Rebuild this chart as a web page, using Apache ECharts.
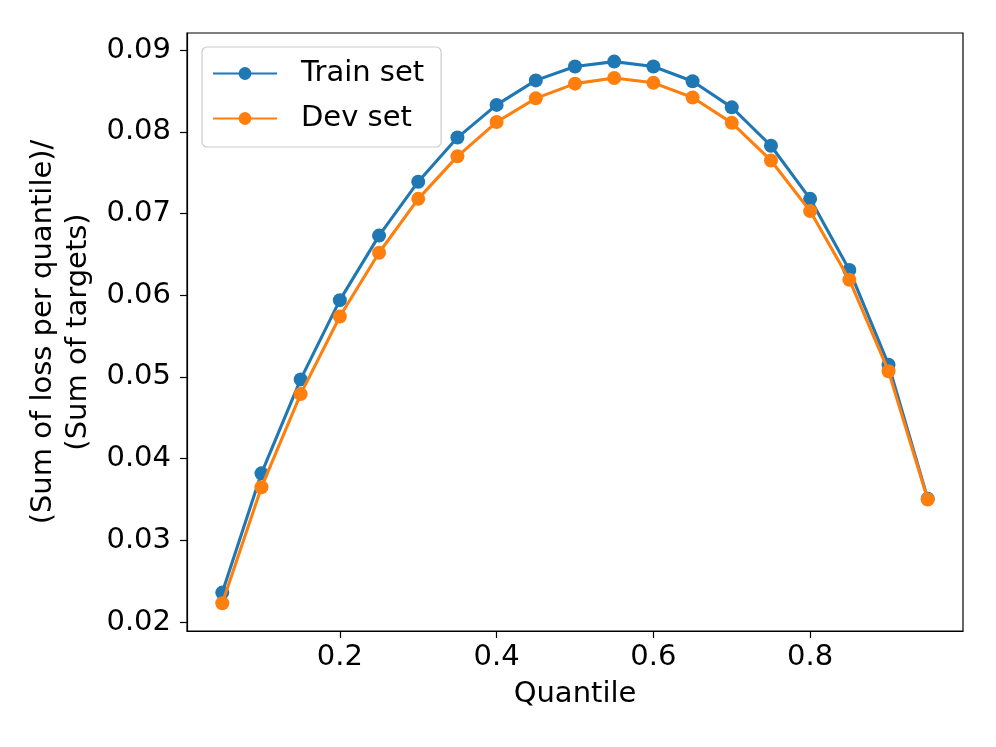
<!DOCTYPE html>
<html>
<head>
<meta charset="utf-8">
<script src="https://cdn.jsdelivr.net/npm/echarts@6/dist/echarts.min.js"></script>
<style>
html,body{margin:0;padding:0;background:#fff;}
#chart{width:996px;height:747px;}
</style>
</head>
<body>
<div id="chart"></div>
<script>
const quantiles = [0.05,0.10,0.15,0.20,0.25,0.30,0.35,0.40,0.45,0.50,0.55,0.60,0.65,0.70,0.75,0.80,0.85,0.90,0.95];
const trainSet = [0.0236,0.0382,0.0497,0.0594,0.0673,0.0739,0.0793,0.0833,0.0863,0.0880,0.0886,0.0880,0.0862,0.0830,0.0783,0.0718,0.0631,0.0515,0.0351];
const devSet   = [0.0223,0.0365,0.0479,0.0574,0.0652,0.0718,0.0770,0.0812,0.0841,0.0859,0.0866,0.0860,0.0842,0.0811,0.0765,0.0703,0.0619,0.0507,0.0350];
const xTicks = [0.2,0.4,0.6,0.8];
const yTicks = [0.02,0.03,0.04,0.05,0.06,0.07,0.08,0.09];
const seriesNames = ['Train set','Dev set'];
const colors = ['#1f77b4','#ff7f0e'];
const xTitle = 'Quantile';
const yTitle = '(Sum of loss per quantile)/\n(Sum of targets)';

const font = 'DejaVu Sans';
const fs = 29;
const chart = echarts.init(document.getElementById('chart'), null, {renderer:'canvas'});
function pairs(xs, ys){ return xs.map((x,i)=>[x, ys[i]]); }

chart.setOption({
  animation:false,
  backgroundColor:'#fff',
  textStyle:{fontFamily:font},
  grid:{left:187,right:33,top:33,bottom:116,show:true,borderColor:'#000',borderWidth:1.2,backgroundColor:'transparent'},
  legend:{
    left:202, top:47, orient:'vertical',
    data:seriesNames,
    itemWidth:64, itemHeight:16, itemGap:16,
    padding:[12,17,14,10],
    borderColor:'#cccccc', borderWidth:1.2, borderRadius:5,
    backgroundColor:'rgba(255,255,255,0.8)',
    textStyle:{fontFamily:font,fontSize:fs,color:'#000',padding:[0,0,0,19]}
  },
  xAxis:{
    type:'value', min:0.005, max:0.995,
    name:xTitle, nameLocation:'middle', nameGap:49,
    nameTextStyle:{fontFamily:font,fontSize:fs,color:'#000'},
    axisLine:{show:true,lineStyle:{color:'#000',width:1.2}},
    axisTick:{show:true,inside:false,length:7,lineStyle:{color:'#000',width:1.2},customValues:xTicks},
    axisLabel:{show:true,margin:12,fontFamily:font,fontSize:fs,color:'#000',customValues:xTicks,formatter:v=>v.toFixed(1)},
    splitLine:{show:false}
  },
  yAxis:{
    type:'value', min:0.0189, max:0.0921,
    name:yTitle, nameLocation:'middle', nameGap:86, nameRotate:90,
    nameTextStyle:{fontFamily:font,fontSize:fs,color:'#000',lineHeight:35,align:'center'},
    axisLine:{show:true,lineStyle:{color:'#000',width:1.2}},
    axisTick:{show:true,inside:false,length:7,lineStyle:{color:'#000',width:1.2},customValues:yTicks},
    axisLabel:{show:true,margin:16,fontFamily:font,fontSize:fs,color:'#000',customValues:yTicks,formatter:v=>v.toFixed(2)},
    splitLine:{show:false}
  },
  series:[
    {name:seriesNames[0],type:'line',data:pairs(quantiles,trainSet),symbol:'circle',symbolSize:14,
     itemStyle:{color:colors[0]},lineStyle:{color:colors[0],width:3.1},z:2},
    {name:seriesNames[1],type:'line',data:pairs(quantiles,devSet),symbol:'circle',symbolSize:14,
     itemStyle:{color:colors[1]},lineStyle:{color:colors[1],width:3.1},z:3}
  ]
});
</script>
</body>
</html>
